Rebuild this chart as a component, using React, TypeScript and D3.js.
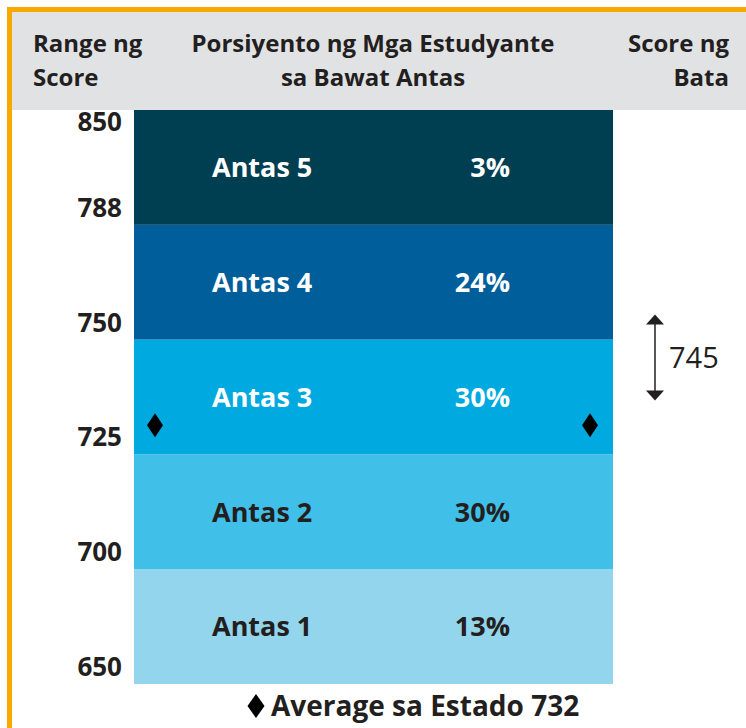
import React from 'react';
import * as d3 from 'd3';

const levels = ['Antas 1', 'Antas 2', 'Antas 3', 'Antas 4', 'Antas 5'];
const percents = [13, 30, 30, 24, 3];
const cutScores = [650, 700, 725, 750, 788, 850];
const levelColors = ['#92d5ec', '#40c0e9', '#00a9e0', '#005f9b', '#003f52'];
const levelTextColors = ['#231f20', '#231f20', '#ffffff', '#ffffff', '#ffffff'];
const stateAverage = 732;
const childScore = 745;

const W = 746;
const H = 728;
const FONT = '"Open Sans", "Noto Sans", sans-serif';
const INK = '#231f20';

const App = () => {
  const barLeft = 134;
  const barRight = 613;
  const top = 110;
  const bottom = 684;

  // equal-height band per level, highest level at the top
  const yBand = d3.scaleBand<string>()
    .domain([...levels].reverse())
    .range([top, bottom])
    .padding(0);

  // score -> y, piecewise across the band edges
  const edges = [bottom, ...levels.map(l => yBand(l)!)];
  const y = d3.scaleLinear().domain(cutScores).range(edges);

  const dia = (cx: number, cy: number, w: number, h: number) =>
    `M${cx},${cy - h / 2}L${cx + w / 2},${cy}L${cx},${cy + h / 2}L${cx - w / 2},${cy}Z`;

  const ay = y(childScore) - 5;
  const half = 43;
  const ax = 655;

  return (
    <svg width={W} height={H} style={{ position: 'absolute', left: 0, top: 0 }} fontFamily={FONT}>
      <rect x={0} y={0} width={W} height={H} fill="#ffffff" />
      {/* orange frame */}
      <rect x={7} y={7} width={W - 7} height={5} fill="#f9a800" />
      <rect x={7} y={7} width={5} height={H - 7} fill="#f9a800" />
      {/* header */}
      <rect x={12} y={12} width={W - 12} height={top - 12} fill="#e1e2e4" />
      <g fontWeight={700} fontSize={24} fill={INK}>
        <text x={33} y={52}>Range ng</text>
        <text x={33} y={86}>Score</text>
        <text x={373} y={52} textAnchor="middle">Porsiyento ng Mga Estudyante</text>
        <text x={373} y={86} textAnchor="middle">sa Bawat Antas</text>
        <text x={729} y={52} textAnchor="end">Score ng</text>
        <text x={729} y={86} textAnchor="end">Bata</text>
      </g>

      {/* level bands */}
      {levels.map((l, i) => (
        <g key={l}>
          <rect x={barLeft} y={yBand(l)} width={barRight - barLeft} height={yBand.bandwidth()} fill={levelColors[i]} />
          <text x={212} y={yBand(l)! + yBand.bandwidth() / 2} dy="0.36em" fontSize={27} fontWeight={700} fill={levelTextColors[i]}>{l}</text>
          <text x={510} y={yBand(l)! + yBand.bandwidth() / 2} dy="0.36em" fontSize={27} fontWeight={700} textAnchor="end" fill={levelTextColors[i]}>{percents[i]}%</text>
        </g>
      ))}

      {/* score range labels */}
      <g fontSize={26} fontWeight={700} fill={INK} textAnchor="end">
        {cutScores.map(s => (
          <text key={s} x={122} y={s === cutScores[cutScores.length - 1] ? y(s) + 21 : y(s) - 8}>{s}</text>
        ))}
      </g>

      {/* state average markers */}
      <path d={dia(155, y(stateAverage) + 3, 16, 24)} fill="#000" />
      <path d={dia(590, y(stateAverage) + 3, 16, 24)} fill="#000" />

      {/* child's score arrow */}
      <line x1={ax} x2={ax} y1={ay - half + 8} y2={ay + half - 8} stroke={INK} strokeWidth={1.5} />
      <path d={`M${ax},${ay - half}L${ax + 9},${ay - half + 10}L${ax - 9},${ay - half + 10}Z`} fill={INK} />
      <path d={`M${ax},${ay + half}L${ax + 9},${ay + half - 10}L${ax - 9},${ay + half - 10}Z`} fill={INK} />
      <text x={669} y={ay} dy="0.36em" fontSize={29} fill={INK}>{childScore}</text>

      {/* footnote */}
      <path d={dia(256, 706, 17, 24)} fill="#000" />
      <text x={271} y={716} fontSize={28} fontWeight={700} fill={INK}>Average sa Estado {stateAverage}</text>
    </svg>
  );
};

export default App;
